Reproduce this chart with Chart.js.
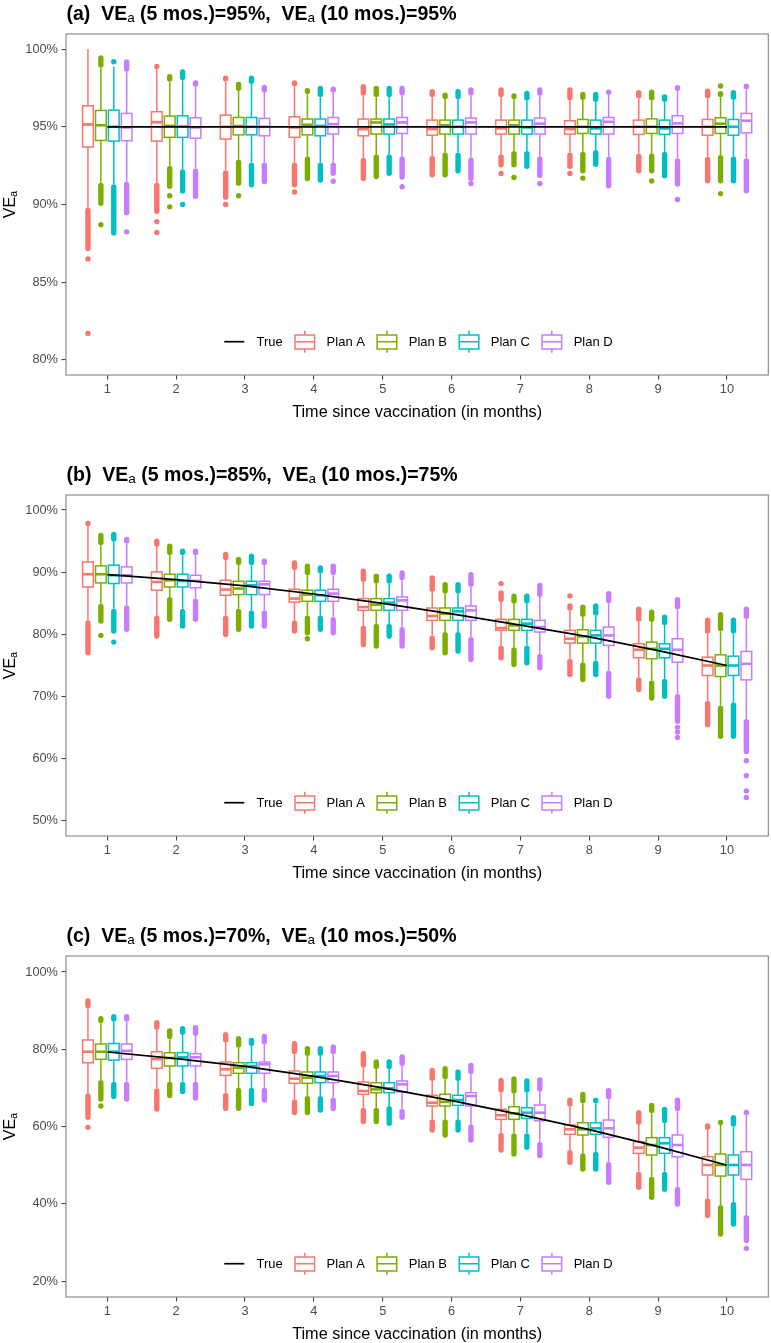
<!DOCTYPE html>
<html><head><meta charset="utf-8">
<script src="https://cdn.jsdelivr.net/npm/chart.js@4.4.1/dist/chart.umd.min.js"></script>
<style>
html,body{margin:0;padding:0;background:#fff;}
#wrap{position:relative;width:771px;height:1343px;overflow:hidden;background:#fff;}
canvas{position:absolute;left:0;}
</style></head><body>
<div id="wrap">
<canvas id="ca" width="771" height="461" style="top:0px"></canvas>
<canvas id="cb" width="771" height="461" style="top:461px"></canvas>
<canvas id="cc" width="771" height="421" style="top:922px"></canvas>
</div>
<script>
// ---------- data ----------
const months = [1,2,3,4,5,6,7,8,9,10];
const plans = ['Plan A','Plan B','Plan C','Plan D'];
const planColors = ['#F8766D','#7CAE00','#00BFC4','#C77CFF'];
const xTitle = 'Time since vaccination (in months)';

// each row: [lowest outlier, lower whisker, Q1, median, Q3, upper whisker, highest outlier]
// ---- panel (a) ----
const a_tag = '(a)', a_ve5 = '95%', a_ve10 = '95%';
const a_yTicks = [80,85,90,95,100];
const a_true = [95,95,95,95,95,95,95,95,95,95];
const a_planA = [
 [87.0,89.8,93.7,95.15,96.35,100.0,100.0],[89.4,91.4,94.08,95.3,95.97,98.7,99.05],
 [90.3,92.2,94.21,95.0,95.75,97.9,98.3],[91.1,92.7,94.32,94.96,95.64,97.6,98.0],
 [91.5,93.0,94.42,94.85,95.5,97.0,97.75],[91.74,93.13,94.46,94.85,95.43,96.9,97.43],
 [92.38,93.24,94.53,94.9,95.43,96.9,97.54],[92.28,93.35,94.53,94.85,95.39,96.7,97.54],
 [92.0,93.28,94.51,95.0,95.43,96.83,97.36],[91.35,93.07,94.46,95.0,95.47,96.83,97.47]];
const a_planB = [
 [89.9,91.4,94.12,95.1,96.05,98.8,99.6],[91.0,92.5,94.32,95.06,95.69,97.9,98.4],
 [91.2,92.9,94.48,95.05,95.6,97.3,97.9],[91.5,93.1,94.48,95.13,95.5,97.1,97.5],
 [91.63,93.24,94.53,95.28,95.5,96.9,97.64],[91.74,93.35,94.53,95.1,95.43,96.78,97.2],
 [92.38,93.45,94.53,95.1,95.43,96.78,97.15],[92.0,93.4,94.57,95.0,95.47,96.72,97.25],
 [92.0,93.3,94.57,95.0,95.51,96.7,97.4],[91.35,93.18,94.57,95.2,95.58,96.9,97.3]];
const a_planC = [
 [88.0,91.3,94.08,95.0,96.07,98.86,98.86],[90.7,92.26,94.32,95.02,95.71,98.0,98.7],
 [91.1,92.7,94.48,95.0,95.6,97.75,98.3],[91.4,92.7,94.42,95.06,95.5,96.9,97.64],
 [91.84,93.24,94.53,95.15,95.5,96.9,97.64],[92.0,93.35,94.53,95.0,95.43,96.78,97.43],
 [92.28,93.45,94.53,94.96,95.43,96.68,97.32],[92.42,93.5,94.53,94.9,95.43,96.6,97.25],
 [91.68,93.39,94.51,94.9,95.43,96.6,97.1],[91.35,93.1,94.46,95.0,95.47,96.72,97.36]];
const a_planD = [
 [89.3,91.46,94.1,94.96,95.86,98.54,99.34],[90.35,92.32,94.27,94.96,95.58,97.58,98.0],
 [91.3,92.7,94.42,95.0,95.54,97.2,97.7],[91.84,92.7,94.53,95.17,95.6,97.2,97.6],
 [91.6,93.1,94.57,95.28,95.6,97.0,97.64],[91.52,93.03,94.53,95.28,95.56,97.0,97.54],
 [91.7,93.1,94.53,95.2,95.56,97.0,97.54],[91.03,93.07,94.53,95.32,95.6,97.1,97.36],
 [91.14,92.97,94.57,95.22,95.71,97.3,97.69],[90.71,92.97,94.61,95.39,95.86,97.4,97.79]];
// isolated outliers: [month, value]
const a_isoA = [[1,86.5],[1,81.7],[2,88.9],[2,88.2],[3,90.0],[4,90.8],[7,92.0],[8,92.0]];
const a_isoB = [[1,88.7],[2,90.56],[2,89.85],[3,90.56],[7,91.74],[8,91.7],[9,91.52],[10,97.62],[10,90.7]];
const a_isoC = [[1,99.18],[2,90.0]];
const a_isoD = [[1,88.24],[4,91.5],[5,91.14],[6,91.35],[7,91.35],[9,90.32]];

// ---- panel (b) ----
const b_tag = '(b)', b_ve5 = '85%', b_ve10 = '75%';
const b_yTicks = [50,60,70,80,90,100];
const b_true = [89.6,88.8,87.8,86.5,85.0,83.3,81.5,79.6,77.4,75.0];
const b_planA = [
 [76.6,82.26,87.63,89.68,91.66,97.5,97.5],[79.3,83.06,87.1,88.44,90.05,94.08,95.43],
 [79.57,83.06,86.3,87.2,88.7,91.94,93.28],[80.11,82.26,85.2,85.76,87.26,90.32,91.94],
 [77.95,81.45,83.87,84.4,85.76,88.44,90.6],[77.42,79.84,82.26,82.96,84.25,86.83,89.52],
 [75.8,78.23,80.65,81.02,82.42,85.2,87.1],[73.11,76.08,78.6,79.3,80.65,83.8,85.0],
 [70.7,73.11,76.24,77.53,78.49,82.0,84.5],[65.05,69.35,73.39,75.0,76.34,80.11,82.7]];
const b_planB = [
 [81.72,84.95,88.28,89.68,91.02,94.35,96.35],[81.99,86.02,87.63,88.7,89.68,92.74,94.62],
 [80.38,84.14,86.4,87.37,88.55,91.13,92.47],[79.84,83.06,85.32,86.4,87.1,89.52,91.4],
 [77.69,81.72,83.87,84.79,85.76,88.17,89.79],[76.61,80.38,82.26,83.33,84.25,86.56,88.44],
 [74.73,77.95,80.65,81.45,82.42,84.95,86.56],[72.31,75.53,78.6,79.68,80.75,82.8,84.8],
 [69.35,72.58,76.08,77.69,78.76,82.0,84.0],[63.17,68.55,73.23,75.0,76.72,80.5,83.6]];
const b_planC = [
 [80.11,84.14,88.18,89.52,91.13,94.9,96.5],[80.92,84.14,87.63,88.6,89.68,92.74,93.82],
 [80.92,83.87,86.4,87.9,88.55,91.13,93.0],[80.38,83.06,85.32,86.3,87.1,89.79,91.13],
 [79.3,81.72,83.87,85.11,85.76,88.17,89.79],[76.88,80.38,82.26,83.71,84.25,86.56,88.44],
 [75.0,78.23,80.65,81.72,82.42,84.95,86.56],[73.11,75.8,78.6,79.84,80.65,83.0,85.0],
 [69.63,72.85,76.24,77.69,78.49,81.5,83.2],[63.17,69.09,73.4,75.0,76.5,80.1,82.7]];
const b_planD = [
 [80.38,84.68,88.28,89.52,90.86,94.6,95.7],[81.99,85.76,87.5,88.6,89.5,92.74,93.82],
 [80.92,83.87,86.4,88.06,88.55,91.13,92.2],[79.84,82.8,85.32,86.56,87.26,89.52,91.4],
 [77.69,81.18,83.87,85.48,86.02,88.71,90.32],[75.53,79.57,82.26,83.87,84.57,87.63,90.05],
 [74.19,76.88,80.38,81.18,82.26,86.0,88.3],[69.63,74.19,78.23,79.84,81.18,85.0,87.0],
 [65.6,70.43,75.53,77.53,79.3,84.0,86.0],[60.75,66.4,72.69,75.27,77.26,82.5,84.5]];
const b_isoA = [[1,97.85],[7,88.17],[8,86.2]];
const b_isoB = [[1,79.84],[4,79.3]];
const b_isoC = [[1,78.76]];
const b_isoD = [[9,65.05],[9,64.3],[9,63.44],[10,59.68],[10,57.26],[10,54.84],[10,53.76]];

// ---- panel (c) ----
const c_tag = '(c)', c_ve5 = '70%', c_ve10 = '50%';
const c_yTicks = [20,40,60,80,100];
const c_true = [79.3,77.6,75.6,73.0,70.0,66.7,63.1,59.2,54.8,50.0];
const c_planA = [
 [61.7,68.6,76.53,79.38,82.41,90.6,93.2],[63.85,69.9,75.08,77.49,79.38,84.99,87.58],
 [64.04,68.77,73.27,74.82,76.71,81.71,84.48],[62.92,67.06,71.2,72.4,74.39,78.7,82.15],
 [60.6,64.9,68.36,69.21,71.54,75.25,79.56],[58.42,61.88,65.33,66.19,68.1,71.8,75.25],
 [53.25,58.42,61.88,62.92,64.47,68.77,72.65],[50.06,53.94,58.0,59.3,60.42,65.15,67.5],
 [43.6,48.33,53.08,54.55,56.1,60.42,64.3],[36.27,41.45,47.48,50.06,52.21,59.12,60.85]];
const c_planB = [
 [66.44,72.06,77.41,79.38,81.37,86.73,88.62],[67.32,71.62,75.68,77.75,79.12,82.59,85.43],
 [64.04,70.06,73.79,75.25,76.53,80.42,83.44],[62.92,67.92,71.2,72.65,74.13,78.27,80.85],
 [60.6,64.9,68.77,69.64,71.36,74.83,77.41],[57.13,61.88,65.33,66.4,68.36,72.24,75.68],
 [52.2,58.25,61.88,63.44,65.15,68.5,73.0],[48.33,53.08,57.83,59.3,61.0,66.0,69.0],
 [41.0,47.04,52.65,55.24,57.13,63.44,66.19],[31.5,39.7,47.2,50.06,52.9,60.42,61.7]];
const c_planC = [
 [67.06,71.62,77.2,79.38,81.5,87.14,89.13],[68.4,71.62,75.68,77.93,79.12,83.7,86.03],
 [65.3,70.06,73.79,75.68,76.53,80.85,83.0],[63.6,67.92,71.36,73.09,74.13,78.27,80.85],
 [60.16,65.33,68.77,69.9,71.36,74.83,77.41],[58.42,61.88,65.5,66.88,68.1,71.8,74.83],
 [53.94,58.25,62.1,63.6,64.9,68.8,72.5],[48.33,53.5,58.0,59.56,61.0,66.0,67.5],
 [43.1,48.33,53.08,55.68,57.13,60.85,65.15],[34.1,40.57,47.48,50.06,52.65,59.97,63.0]];
const c_planD = [
 [66.44,71.62,77.41,79.6,81.37,87.14,89.13],[66.7,71.62,75.68,77.93,78.86,83.44,86.3],
 [66.2,70.06,73.79,76.12,76.71,81.28,84.05],[64.0,67.5,71.36,73.09,74.13,78.7,81.28],
 [61.7,64.63,68.95,70.94,71.8,75.68,78.7],[55.84,60.59,65.33,67.92,68.77,73.53,76.53],
 [51.8,56.1,61.53,63.6,65.59,69.0,72.8],[44.9,50.92,57.23,59.56,61.7,67.0,70.0],
 [39.28,44.45,52.2,55.24,57.83,64.0,67.5],[29.8,37.13,46.36,50.06,53.5,63.0,64.3]];
const c_isoA = [[1,59.8]];
const c_isoB = [[1,65.33]];
const c_isoC = [];
const c_isoD = [[10,28.5]];

// ---------- drawing ----------
const FAM = '"Liberation Sans", Arial, Helvetica, sans-serif';
const DODGE = 0.1875;     // group spacing in x units
const HALFW = 0.0775;     // half box width in x units
const R = 2.7;            // outlier point radius (px)
const AXIS_BOTTOM = 375, AXIS_TOP = 34;

function drawSegs(ctx, segs, x, y, mainFont, subFont, subDy) {
  for (const s of segs) {
    ctx.font = s.sub ? subFont : mainFont;
    ctx.fillText(s.t, x, y + (s.sub ? subDy : 0));
    x += ctx.measureText(s.t).width;
  }
  return x;
}
function segsWidth(ctx, segs, mainFont, subFont) {
  let w = 0;
  for (const s of segs) { ctx.font = s.sub ? subFont : mainFont; w += ctx.measureText(s.t).width; }
  return w;
}

function makePanel(id, H, tag, ve5, ve10, yMin, yMax, yTicks, trueVals, groups, isos) {
  const boxPlugin = {
    id: 'boxes' + id,
    beforeDatasetsDraw(chart) {
      const {ctx, scales: {x, y}} = chart;
      const hw = x.getPixelForValue(1 + HALFW) - x.getPixelForValue(1);
      ctx.save();
      months.forEach((m, i) => {
        groups.forEach((rows, k) => {
          const [lo, lw, q1, med, q3, uw, hi] = rows[i];
          const col = planColors[k];
          const xc = x.getPixelForValue(m + (k - 1.5) * DODGE);
          ctx.strokeStyle = col; ctx.fillStyle = col;
          ctx.lineWidth = 1.5; ctx.lineCap = 'butt';
          ctx.beginPath();
          ctx.moveTo(xc, y.getPixelForValue(q3)); ctx.lineTo(xc, y.getPixelForValue(uw));
          ctx.moveTo(xc, y.getPixelForValue(q1)); ctx.lineTo(xc, y.getPixelForValue(lw));
          ctx.stroke();
          // dense runs of outliers, inset so the painted extent matches the read extent
          const runs = [[uw, hi, -1], [lw, lo, 1]];
          for (const [a, b, dir] of runs) {
            if (Math.abs(b - a) < 1e-6) continue;
            const pa = y.getPixelForValue(a), pb = y.getPixelForValue(b);
            let s = pa + dir * R, e = pb - dir * R;
            if ((e - s) * dir < 0) { s = e = (pa + pb) / 2; }
            ctx.lineWidth = 2 * R; ctx.lineCap = 'round';
            ctx.beginPath(); ctx.moveTo(xc, s); ctx.lineTo(xc, e + (s === e ? 0.01 : 0)); ctx.stroke();
          }
          // box
          const yt = y.getPixelForValue(q3), yb = y.getPixelForValue(q1);
          ctx.lineCap = 'butt'; ctx.lineWidth = 1.5;
          ctx.fillStyle = '#ffffff';
          ctx.fillRect(xc - hw, yt, 2 * hw, yb - yt);
          ctx.strokeRect(xc - hw, yt, 2 * hw, yb - yt);
          ctx.lineWidth = 2.6;
          const ym = y.getPixelForValue(med);
          ctx.beginPath(); ctx.moveTo(xc - hw, ym); ctx.lineTo(xc + hw, ym); ctx.stroke();
        });
      });
      ctx.restore();
    },
    afterDraw(chart) {
      const {ctx, chartArea: ca} = chart;
      ctx.save();
      // panel border
      ctx.strokeStyle = '#8C8C8C'; ctx.lineWidth = 1.2;
      ctx.strokeRect(ca.left, ca.top, ca.right - ca.left, ca.bottom - ca.top);
      // title
      ctx.fillStyle = '#000'; ctx.textBaseline = 'alphabetic'; ctx.textAlign = 'left';
      const tFont = 'bold 19.5px ' + FAM, tSub = '13.5px ' + FAM;
      drawSegs(ctx, [{t: tag + '  VE'}, {t: 'a', sub: true}, {t: ' (5 mos.)=' + ve5 + ',  VE'}, {t: 'a', sub: true}, {t: ' (10 mos.)=' + ve10}],
               66.5, 19.5, tFont, tSub, 2.5);
      // x axis title
      ctx.font = '16.3px ' + FAM; ctx.textAlign = 'center';
      ctx.fillText(xTitle, (ca.left + ca.right) / 2, 416.5);
      // y axis title (rotated, with subscript)
      ctx.textAlign = 'left';
      const ySegs = [{t: 'VE'}, {t: 'a', sub: true}];
      const yF = '16px ' + FAM, yS = '11px ' + FAM;
      const w = segsWidth(ctx, ySegs, yF, yS);
      ctx.translate(14.5, (ca.top + ca.bottom) / 2);
      ctx.rotate(-Math.PI / 2);
      drawSegs(ctx, ySegs, -w / 2, 0, yF, yS, 2.5);
      ctx.setTransform(1, 0, 0, 1, 0, 0);
      // legend
      const yc = ca.bottom - 33.3;
      const lf = '13px ' + FAM;
      ctx.font = lf; ctx.textBaseline = 'middle';
      const items = [{label: 'True', line: true, color: '#000'}].concat(plans.map((p, k) => ({label: p, color: planColors[k]})));
      const KEYW = 21, KGAP = 11.3, IGAP = 11.5;
      let total = 0;
      items.forEach((it, i) => { it.w = ctx.measureText(it.label).width; total += KEYW + KGAP + it.w + (i ? IGAP : 0); });
      let lx = (ca.left + ca.right) / 2 + 1.3 - total / 2;
      items.forEach((it, i) => {
        if (i) lx += IGAP;
        if (it.line) {
          ctx.strokeStyle = '#000'; ctx.lineWidth = 1.7;
          ctx.beginPath(); ctx.moveTo(lx, yc); ctx.lineTo(lx + 20, yc); ctx.stroke();
        } else {
          ctx.strokeStyle = it.color; ctx.lineWidth = 1.5;
          ctx.strokeRect(lx + 0.7, yc - 6.7, KEYW - 1.4, 14);
          ctx.beginPath();
          ctx.moveTo(lx + KEYW / 2, yc - 6.7); ctx.lineTo(lx + KEYW / 2, yc - 11);
          ctx.moveTo(lx + KEYW / 2, yc + 7.3); ctx.lineTo(lx + KEYW / 2, yc + 11);
          ctx.moveTo(lx + 0.7, yc); ctx.lineTo(lx + KEYW - 0.7, yc);
          ctx.stroke();
        }
        lx += KEYW + KGAP;
        ctx.fillStyle = '#000'; ctx.font = lf;
        ctx.fillText(it.label, lx, yc + 0.5);
        lx += it.w;
      });
      ctx.restore();
    }
  };

  const datasets = [{
    type: 'line', label: 'True',
    data: months.map((m, i) => ({x: m, y: trueVals[i]})),
    borderColor: '#000', borderWidth: 1.7, pointRadius: 0, tension: 0, order: 0, fill: false
  }].concat(plans.map((p, k) => ({
    type: 'scatter', label: p,
    data: isos[k].map(([m, v]) => ({x: m + (k - 1.5) * DODGE, y: v})),
    pointRadius: R, pointHoverRadius: R, pointBorderWidth: 0,
    backgroundColor: planColors[k], borderColor: planColors[k], order: 1
  })));

  const tickFont = {size: 12.8, family: FAM};
  new Chart(document.getElementById(id), {
    type: 'line',
    data: {datasets},
    options: {
      responsive: false, animation: false, devicePixelRatio: 1,
      layout: {padding: {top: AXIS_TOP, right: 1, left: 0, bottom: 0}},
      plugins: {legend: {display: false}, tooltip: {enabled: false}, title: {display: false}},
      scales: {
        x: {
          type: 'linear', min: 0.4, max: 10.6,
          afterBuildTicks: s => { s.ticks = months.map(v => ({value: v})); },
          afterFit: s => { s.height = H - AXIS_BOTTOM; },
          grid: {drawOnChartArea: false, drawTicks: true, tickLength: 4.5, color: '#444', lineWidth: 1.1},
          border: {display: false},
          ticks: {color: '#4D4D4D', font: tickFont, padding: 2, maxRotation: 0, autoSkip: false}
        },
        y: {
          type: 'linear', min: yMin, max: yMax,
          afterBuildTicks: s => { s.ticks = yTicks.map(v => ({value: v})); },
          afterFit: s => { s.width = 66; },
          grid: {drawOnChartArea: false, drawTicks: true, tickLength: 4.5, color: '#444', lineWidth: 1.1},
          border: {display: false},
          ticks: {color: '#4D4D4D', font: tickFont, padding: 3.5, callback: v => v + '%'}
        }
      }
    },
    plugins: [boxPlugin]
  });
}

makePanel('ca', 461, a_tag, a_ve5, a_ve10, 79.03, 100.97, a_yTicks, a_true,
  [a_planA, a_planB, a_planC, a_planD], [a_isoA, a_isoB, a_isoC, a_isoD]);
makePanel('cb', 461, b_tag, b_ve5, b_ve10, 47.58, 102.42, b_yTicks, b_true,
  [b_planA, b_planB, b_planC, b_planD], [b_isoA, b_isoB, b_isoC, b_isoD]);
makePanel('cc', 421, c_tag, c_ve5, c_ve10, 15.91, 104.14, c_yTicks, c_true,
  [c_planA, c_planB, c_planC, c_planD], [c_isoA, c_isoB, c_isoC, c_isoD]);
</script>
</body></html>
